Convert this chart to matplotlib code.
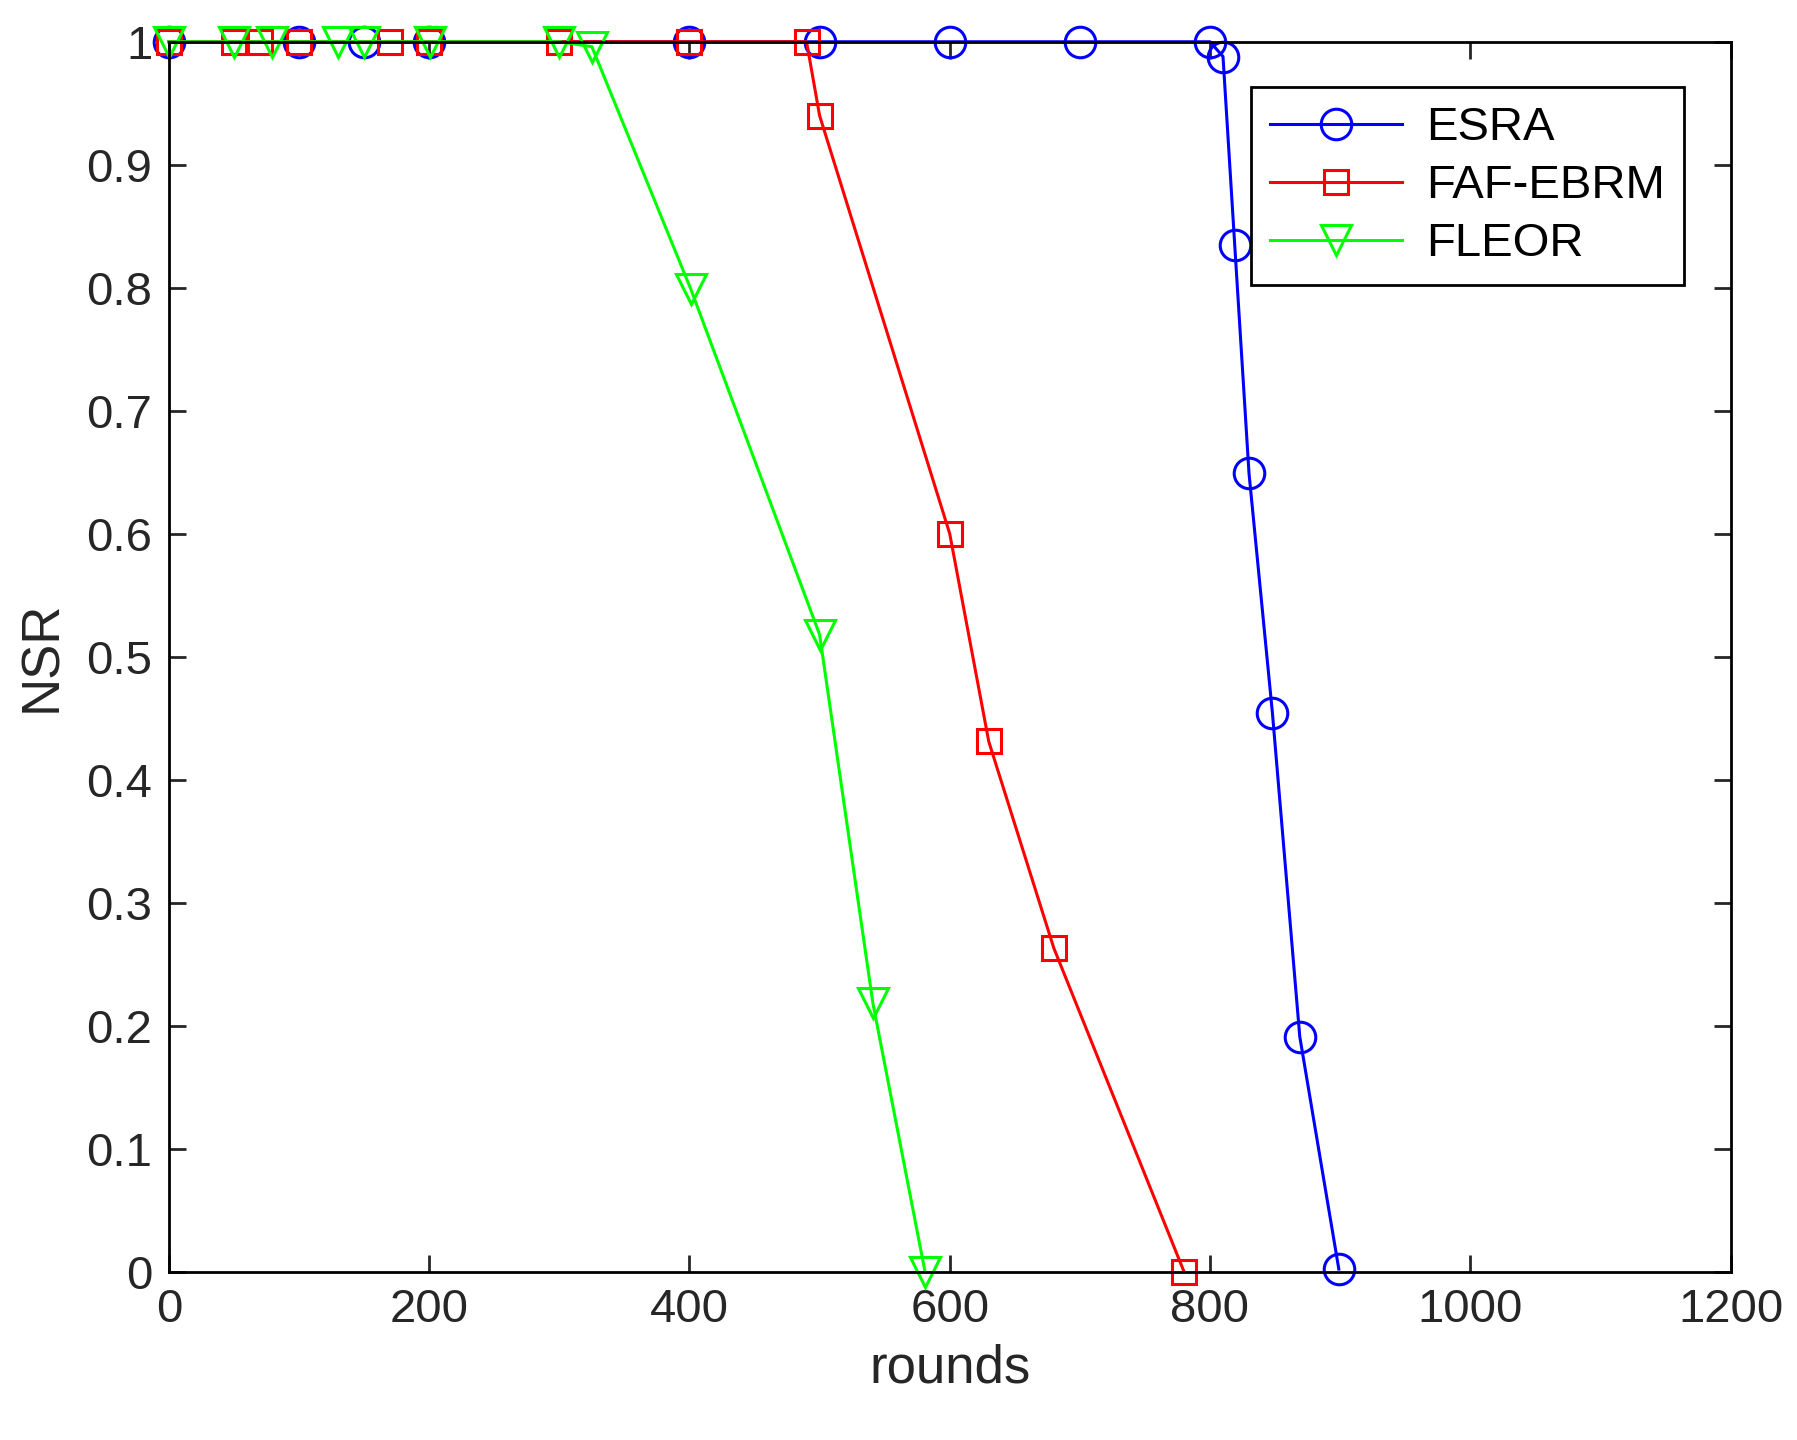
import matplotlib
matplotlib.use("Agg")
import matplotlib.pyplot as plt

esra_x = [0, 100, 150, 200, 400, 500, 600, 700, 800, 810, 819, 830, 848, 869, 899]
esra_y = [1, 1, 1, 1, 1, 1, 1, 1, 1, 0.988, 0.835, 0.649, 0.454, 0.191, 0.002]
faf_x = [0, 50, 70, 100, 170, 200, 300, 400, 490, 500, 600, 630, 680, 780]
faf_y = [1, 1, 1, 1, 1, 1, 1, 1, 1, 0.940, 0.600, 0.431, 0.263, 0.0]
fleor_x = [0, 50, 79, 130, 150, 201, 300, 325, 401, 500, 541, 581]
fleor_y = [1, 1, 1, 1, 1, 1, 1, 0.996, 0.799, 0.518, 0.218, 0.0]

plt.rcParams['font.family'] = ['Arial', 'Liberation Sans', 'DejaVu Sans']
fig = plt.figure(figsize=(17.97, 14.4), dpi=100)
ax = fig.add_axes([0.094, 0.117, 0.869, 0.854])
ms = 22
ax.plot(esra_x, esra_y, '-o', color='#0000ff', mfc='none', ms=ms, mew=2.2, lw=2.2, label='ESRA', clip_on=False)
ax.plot(faf_x, faf_y, '-s', color='#ff0000', mfc='none', ms=ms*0.8, mew=2.2, lw=2.2, label='FAF-EBRM', clip_on=False)
ax.plot(fleor_x, fleor_y, '-v', color='#00ff00', mfc='none', ms=ms, mew=2.2, lw=2.2, label='FLEOR', clip_on=False)
ax.set_xlim(0, 1200)
ax.set_ylim(0, 1)
ax.set_xticks(range(0, 1201, 200))
ax.set_yticks([i / 10 for i in range(11)])
ax.set_yticklabels(['0', '0.1', '0.2', '0.3', '0.4', '0.5', '0.6', '0.7', '0.8', '0.9', '1'])
ax.tick_params(direction='in', top=True, right=True, labelsize=34, length=12, width=2, colors='#262626', pad=12)
for s in ax.spines.values():
    s.set_linewidth(2)
ax.set_xlabel('rounds', fontsize=38, color='#262626', labelpad=8)
ax.set_ylabel('NSR', fontsize=38, color='#262626', labelpad=14)
leg = ax.legend(loc='upper right', bbox_to_anchor=(0.97, 0.963), fontsize=34, fancybox=False,
                edgecolor='black', framealpha=1, handlelength=2.8, borderpad=0.4, labelspacing=0.3,
                handletextpad=0.5, borderaxespad=0)
leg.get_frame().set_linewidth(2)
fig.savefig('out.png', dpi=100)
